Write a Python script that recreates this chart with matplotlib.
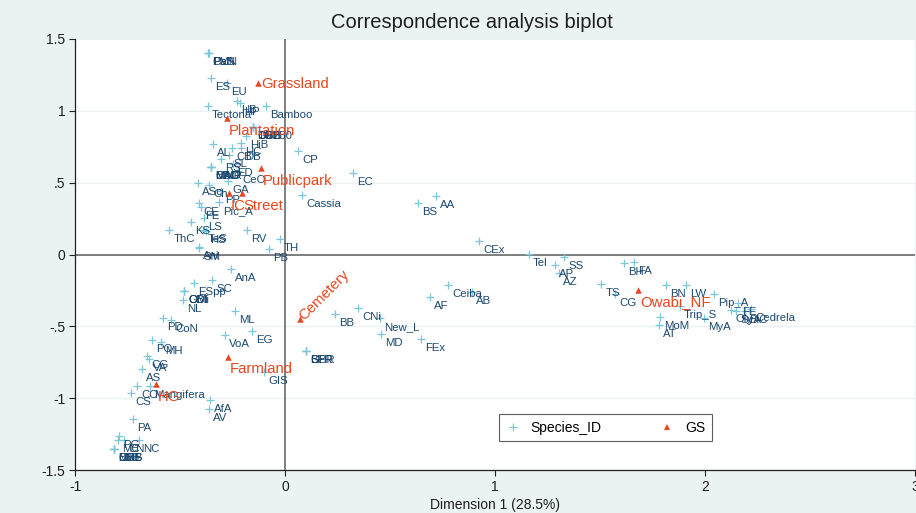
import matplotlib.pyplot as plt
from matplotlib.lines import Line2D

plt.rcParams['font.family'] = ['Liberation Sans', 'DejaVu Sans']

# species (column) coordinates
species = ['PMN', 'CaS', 'PaN', 'ES', 'EU', 'HB', 'HP', 'Tectona', 'Bamboo',
           'DMB', 'GBB', 'CBB', 'TG250', 'HiB', 'HC', 'AL', 'CB', 'DB', 'SL', 'RS',
           'MAO', 'BBG', 'MMR', 'CAD', 'ED', 'CeO', 'GA', 'ASc', 'Ch', 'PP',
           'CE', 'FE', 'Pic_A', 'LS', 'KS', 'ThC', 'TeS', 'HS', 'RV', 'TH', 'PB',
           'SM', 'Ani', 'CP', 'EC', 'Cassia',
           'AnA', 'SC', 'ESpp', 'GMi', 'ODI', 'CBI', 'NL', 'ML', 'PD', 'CoN', 'EG',
           'VoA', 'PO', 'MH', 'CG', 'VA', 'AS', 'GIS', 'CO', 'Mangifera', 'CS',
           'AfA', 'AV', 'PA', 'PG', 'MC', 'CN', 'NC', 'LBB', 'BMB', 'MBS', 'CBE',
           'BS', 'AA', 'CEx', 'BB', 'CNi', 'New_L', 'MD', 'FEx', 'AF', 'Ceiba', 'AB',
           'SFR', 'BFR', 'GBR', 'Tel', 'SS', 'AP', 'AZ', 'TS', 'CG', 'BH', 'FA',
           'BN', 'LW', 'Pip_A', 'Trip_S', 'MoM', 'AT', 'MyA', 'FE', 'Oly', 'SyA',
           'BiC', 'Cedrela']
sp_x = [-0.367, -0.367, -0.362, -0.352, -0.276, -0.229, -0.214, -0.367, -0.090,
        -0.152, -0.152, -0.152, -0.152, -0.186, -0.210, -0.343, -0.252, -0.210, -0.267, -0.305,
        -0.352, -0.352, -0.352, -0.352, -0.248, -0.224, -0.271, -0.414, -0.362, -0.305,
        -0.410, -0.400, -0.314, -0.386, -0.448, -0.552, -0.390, -0.376, -0.181, -0.024, -0.076,
        -0.410, -0.410, 0.062, 0.324, 0.081,
        -0.257, -0.348, -0.433, -0.481, -0.481, -0.481, -0.486, -0.238, -0.581, -0.543, -0.157,
        -0.286, -0.633, -0.590, -0.657, -0.648, -0.681, -0.100, -0.705, -0.643, -0.733,
        -0.357, -0.362, -0.724, -0.790, -0.795, -0.767, -0.695, -0.814, -0.814, -0.814, -0.814,
        0.633, 0.719, 0.924, 0.238, 0.348, 0.452, 0.457, 0.648, 0.690, 0.776, 0.890,
        0.100, 0.100, 0.100, 1.162, 1.329, 1.286, 1.305, 1.505, 1.571, 1.614, 1.662,
        1.814, 1.910, 2.043, 1.881, 1.786, 1.781, 1.995, 2.157, 2.124, 2.148,
        2.190, 2.219]
sp_y = [1.402, 1.402, 1.402, 1.228, 1.193, 1.068, 1.054, 1.033, 1.033,
        0.887, 0.887, 0.887, 0.887, 0.825, 0.776, 0.769, 0.741, 0.741, 0.692, 0.665,
        0.609, 0.609, 0.609, 0.609, 0.630, 0.581, 0.511, 0.498, 0.484, 0.442,
        0.358, 0.331, 0.365, 0.254, 0.226, 0.170, 0.170, 0.163, 0.170, 0.108, 0.038,
        0.045, 0.052, 0.720, 0.567, 0.414,
        -0.101, -0.177, -0.198, -0.254, -0.254, -0.254, -0.317, -0.393, -0.442, -0.456, -0.532,
        -0.560, -0.595, -0.609, -0.706, -0.727, -0.797, -0.818, -0.915, -0.915, -0.964,
        -1.013, -1.075, -1.145, -1.263, -1.291, -1.291, -1.291, -1.354, -1.354, -1.354, -1.354,
        0.358, 0.407, 0.094, -0.414, -0.372, -0.442, -0.553, -0.588, -0.296, -0.212, -0.261,
        -0.672, -0.672, -0.672, 0.003, -0.017, -0.073, -0.129, -0.205, -0.275, -0.059, -0.052,
        -0.212, -0.212, -0.275, -0.358, -0.435, -0.491, -0.442, -0.338, -0.386, -0.393,
        -0.393, -0.379]

# green-space type (row) coordinates
gs = ['Grassland', 'Plantation', 'Publicpark', 'IC', 'Street', 'Cemetery',
      'Farmland', 'HG', 'Owabi_NF']
gs_x = [-0.130, -0.278, -0.116, -0.268, -0.206, 0.071, -0.273, -0.616, 1.682]
gs_y = [1.196, 0.948, 0.602, 0.426, 0.426, -0.449, -0.711, -0.903, -0.247]

xticks = [-1, 0, 1, 2, 3]
yticks = [-1.5, -1, -0.5, 0, 0.5, 1, 1.5]
ytick_labels = ['-1.5', '-1', '-.5', '0', '.5', '1', '1.5']

bg = '#eaf2f3'
navy = '#1a476f'
sky = '#7cc6dc'
red = '#e8461e'

fig = plt.figure(figsize=(9.16, 5.13), dpi=100, facecolor=bg)
ax = fig.add_axes([75 / 916, 1 - 470 / 513, 840 / 916, 431 / 513])
ax.set_facecolor('white')
ax.set_xlim(-1, 3)
ax.set_ylim(-1.5, 1.5)

# grid + reference lines
for yv in yticks:
    ax.axhline(yv, color=bg, lw=1, zorder=0)
ax.axhline(0, color='#6a6a6a', lw=1.2, zorder=1)
ax.axvline(0, color='#6a6a6a', lw=1.2, zorder=1)

ax.scatter(sp_x, sp_y, marker='+', s=32, color=sky, linewidths=0.9, zorder=2)
for lab, x, y in zip(species, sp_x, sp_y):
    ax.annotate(lab, (x, y), xytext=(3, -6.5), textcoords='offset points',
                fontsize=8.2, color=navy, ha='left', va='center', zorder=3)

ax.scatter(gs_x, gs_y, marker='^', s=22, color=red, linewidths=0, zorder=4)
for lab, x, y in zip(gs, gs_x, gs_y):
    if lab == 'Grassland':
        ax.annotate(lab, (x, y), xytext=(2.4, -1.2), textcoords='offset points',
                    fontsize=10.7, color=red, ha='left', va='center', zorder=5)
    elif lab == 'Cemetery':
        ax.annotate(lab, (x, y), xytext=(1, 1), textcoords='offset points',
                    fontsize=10.7, color=red, ha='left', va='center',
                    rotation=45, rotation_mode='anchor', zorder=5)
    else:
        ax.annotate(lab, (x, y), xytext=(1.2, -9), textcoords='offset points',
                    fontsize=10.7, color=red, ha='left', va='center', zorder=5)

for s in ['top', 'right']:
    ax.spines[s].set_visible(False)
for s in ['left', 'bottom']:
    ax.spines[s].set_color('#222222')
    ax.spines[s].set_linewidth(0.9)

ax.set_xticks(xticks)
ax.set_xticklabels([str(t) for t in xticks])
ax.set_yticks(yticks)
ax.set_yticklabels(ytick_labels)
ax.tick_params(axis='both', length=4, width=0.8, color='#222222', labelsize=10,
               labelcolor='#1e1e1e', pad=3)
ax.set_xlabel('Dimension 1 (28.5%)', fontsize=10, color='#1e1e1e', labelpad=3)

fig.text(0.515, 1 - 22 / 513, 'Correspondence analysis biplot', ha='center',
         va='center', fontsize=14.5, color='#1e1e1e')

handles = [Line2D([], [], marker='+', color=sky, ls='none', markersize=6, mew=0.9),
           Line2D([], [], marker='^', color=red, ls='none', markersize=5, mew=0)]
leg = ax.legend(handles, ['Species_ID', 'GS'], ncol=2, loc='center',
                bbox_to_anchor=(0.6315, 0.0986), fontsize=10, frameon=True,
                fancybox=False, edgecolor='#333333', columnspacing=4.2,
                handletextpad=0.8, handlelength=1.0, borderpad=0.5,
                borderaxespad=0)
leg.get_frame().set_linewidth(0.8)

fig.savefig('out.png', dpi=100, facecolor=bg)
